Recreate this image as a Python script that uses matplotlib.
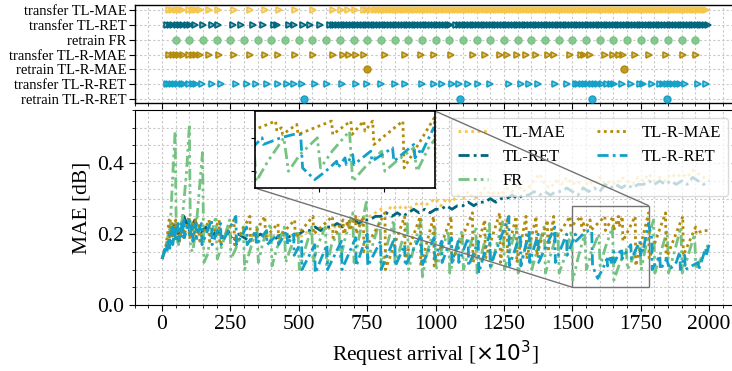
import numpy as np
import matplotlib
matplotlib.use("Agg")
import matplotlib.pyplot as plt
from matplotlib.ticker import MultipleLocator, FormatStrFormatter
from matplotlib.colors import to_rgba
from mpl_toolkits.axes_grid1.inset_locator import mark_inset

plt.rcParams['font.family'] = ['Liberation Serif', 'DejaVu Serif']
plt.rcParams['mathtext.fontset'] = 'dejavusans'

# ---------------- data ----------------
series_names = ["TL-MAE", "TL-RET", "FR", "TL-R-MAE", "TL-R-RET"]
colors = {"TL-MAE": "#f6c64a", "TL-RET": "#00667e", "FR": "#76c282",
          "TL-R-MAE": "#b38b0a", "TL-R-RET": "#12a0c8"}

grid_x = [0, 20, 40, 60, 80, 100, 120, 140, 160, 180, 200, 220, 240, 260, 280, 300, 320, 340, 360, 380,
          400, 420, 440, 460, 480, 500, 520, 540, 560, 580, 600, 620, 640, 660, 680, 700, 720, 740, 760, 780,
          800, 820, 840, 860, 880, 900, 920, 940, 960, 980, 1000, 1020, 1040, 1060, 1080, 1100, 1120, 1140, 1160, 1180,
          1200, 1220, 1240, 1260, 1280, 1300, 1320, 1340, 1360, 1380, 1400, 1420, 1440, 1460, 1480, 1500, 1520, 1540, 1560, 1580,
          1600, 1620, 1640, 1660, 1680, 1700, 1720, 1740, 1760, 1780, 1800, 1820, 1840, 1860, 1880, 1900, 1920, 1940, 1960, 1980, 2000]

tl_mae = [0.13, 0.17, 0.22, 0.19, 0.24, 0.20, 0.23, 0.19, 0.22, 0.20, 0.22, 0.19, 0.21, 0.20, 0.19, 0.20, 0.19, 0.20, 0.19, 0.20,
          0.19, 0.20, 0.19, 0.19, 0.20, 0.19, 0.20, 0.21, 0.21, 0.22, 0.21, 0.22, 0.22, 0.23, 0.23, 0.24, 0.24, 0.25, 0.25, 0.26,
          0.27, 0.26, 0.28, 0.27, 0.28, 0.27, 0.28, 0.29, 0.28, 0.29, 0.30, 0.28, 0.30, 0.29, 0.31, 0.30, 0.32, 0.30, 0.31, 0.33,
          0.31, 0.32, 0.31, 0.33, 0.32, 0.34, 0.32, 0.33, 0.35, 0.37, 0.34, 0.33, 0.35, 0.34, 0.36, 0.34, 0.35, 0.33, 0.35, 0.34,
          0.36, 0.34, 0.35, 0.34, 0.36, 0.35, 0.34, 0.36, 0.35, 0.37, 0.35, 0.36, 0.35, 0.37, 0.36, 0.37, 0.36, 0.38, 0.37, 0.36, 0.36]

tl_ret = [0.13, 0.18, 0.23, 0.20, 0.25, 0.21, 0.24, 0.20, 0.22, 0.19, 0.21, 0.19, 0.21, 0.18, 0.20, 0.19, 0.18, 0.19, 0.20, 0.19,
          0.18, 0.19, 0.20, 0.19, 0.20, 0.20, 0.21, 0.21, 0.22, 0.21, 0.22, 0.22, 0.23, 0.22, 0.23, 0.24, 0.23, 0.24, 0.24, 0.25,
          0.25, 0.26, 0.25, 0.26, 0.25, 0.26, 0.27, 0.26, 0.27, 0.26, 0.27, 0.27, 0.28, 0.27, 0.28, 0.28, 0.29, 0.28, 0.29, 0.29,
          0.30, 0.29, 0.30, 0.30, 0.31, 0.30, 0.31, 0.31, 0.32, 0.31, 0.32, 0.31, 0.32, 0.32, 0.33, 0.32, 0.31, 0.33, 0.32, 0.33,
          0.32, 0.34, 0.33, 0.34, 0.33, 0.34, 0.33, 0.34, 0.34, 0.35, 0.34, 0.35, 0.34, 0.35, 0.34, 0.35, 0.34, 0.36, 0.35, 0.34, 0.35]

fr_x = [0, 10, 20, 30, 40, 48, 52, 60, 75, 90, 100, 104, 112, 125, 140, 148, 153, 165, 180, 197, 202, 220, 247, 252, 270, 297,
        302, 320, 347, 352, 370, 397, 402, 420, 447, 452, 470, 497, 502, 520, 547, 552, 570, 597, 602, 620, 647, 652, 670, 697,
        702, 720, 747, 752, 770, 797, 802, 820, 847, 852, 870, 897, 902, 920, 947, 952, 970, 997, 1002, 1020, 1047, 1052, 1070,
        1097, 1102, 1120, 1147, 1152, 1170, 1197, 1202, 1220, 1247, 1252, 1270, 1297, 1302, 1320, 1347, 1352, 1370, 1397, 1402,
        1420, 1447, 1452, 1470, 1497, 1502, 1520, 1545, 1552, 1570, 1597, 1602, 1620, 1647, 1652, 1670, 1697, 1702, 1720, 1747,
        1752, 1770, 1797, 1802, 1820, 1847, 1852, 1870, 1897, 1902, 1920, 1947, 1952, 1970, 1997]
fr_y = [0.13, 0.15, 0.19, 0.22, 0.38, 0.49, 0.20, 0.17, 0.25, 0.38, 0.51, 0.16, 0.15, 0.22, 0.36, 0.43, 0.12, 0.14, 0.20, 0.25,
        0.13, 0.17, 0.24, 0.13, 0.16, 0.22, 0.10, 0.15, 0.22, 0.12, 0.18, 0.23, 0.11, 0.16, 0.22, 0.12, 0.16, 0.21, 0.10, 0.15,
        0.22, 0.12, 0.17, 0.22, 0.11, 0.17, 0.21, 0.13, 0.19, 0.26, 0.12, 0.19, 0.29, 0.13, 0.17, 0.24, 0.11, 0.16, 0.24, 0.11,
        0.16, 0.23, 0.10, 0.16, 0.24, 0.08, 0.15, 0.22, 0.10, 0.15, 0.21, 0.09, 0.14, 0.21, 0.10, 0.15, 0.22, 0.09, 0.15, 0.23,
        0.10, 0.16, 0.24, 0.10, 0.15, 0.22, 0.09, 0.14, 0.21, 0.10, 0.15, 0.22, 0.09, 0.14, 0.21, 0.09, 0.13, 0.21, 0.07, 0.13,
        0.20, 0.10, 0.15, 0.20, 0.11, 0.16, 0.22, 0.07, 0.11, 0.16, 0.10, 0.13, 0.17, 0.10, 0.17, 0.24, 0.09, 0.14, 0.21, 0.09,
        0.14, 0.22, 0.09, 0.13, 0.20, 0.10, 0.13, 0.17]

trm_x = [0, 15, 26, 28, 38, 40, 50, 52, 62, 64, 77, 79, 99, 101, 111, 113, 123, 125, 136, 138, 172, 174, 209, 211, 263, 265,
         321, 323, 376, 378, 424, 426, 485, 487, 552, 554, 623, 625, 662, 664, 684, 686, 708, 710, 736, 738, 815, 817, 887, 889,
         944, 946, 993, 995, 1057, 1059, 1135, 1137, 1180, 1182, 1235, 1237, 1261, 1263, 1295, 1297, 1331, 1333, 1368, 1370,
         1409, 1411, 1432, 1434, 1492, 1494, 1532, 1534, 1541, 1543, 1565, 1567, 1619, 1621, 1649, 1651, 1669, 1671, 1683, 1685,
         1730, 1732, 1779, 1781, 1841, 1843, 1904, 1906, 1951, 1953, 1975, 2000]
trm_y = [0.13, 0.17, 0.24, 0.19, 0.23, 0.18, 0.24, 0.19, 0.22, 0.18, 0.24, 0.19, 0.25, 0.19, 0.23, 0.18, 0.24, 0.18, 0.23, 0.18,
         0.24, 0.18, 0.24, 0.17, 0.24, 0.17, 0.25, 0.18, 0.25, 0.19, 0.23, 0.19, 0.24, 0.19, 0.25, 0.20, 0.25, 0.19, 0.24, 0.20,
         0.24, 0.21, 0.25, 0.20, 0.25, 0.15, 0.26, 0.10, 0.25, 0.13, 0.25, 0.11, 0.25, 0.11, 0.25, 0.12, 0.26, 0.12, 0.24, 0.13,
         0.26, 0.12, 0.24, 0.15, 0.25, 0.12, 0.25, 0.13, 0.25, 0.14, 0.24, 0.15, 0.25, 0.18, 0.25, 0.22, 0.25, 0.22, 0.23, 0.21,
         0.24, 0.21, 0.25, 0.21, 0.25, 0.21, 0.25, 0.22, 0.25, 0.18, 0.25, 0.11, 0.26, 0.13, 0.26, 0.13, 0.25, 0.14, 0.22, 0.20,
         0.21, 0.21]

trr_x = [0, 16, 18, 26, 28, 37, 39, 47, 49, 59, 61, 71, 73, 80, 82, 99, 101, 111, 113, 123, 125, 144, 146, 181, 183, 214, 216,
         270, 272, 309, 311, 343, 345, 382, 384, 424, 426, 457, 459, 481, 483, 510, 512, 558, 560, 603, 605, 656, 658, 708, 710,
         750, 752, 799, 801, 851, 853, 887, 889, 948, 950, 995, 997, 1022, 1024, 1058, 1060, 1083, 1085, 1119, 1121, 1156, 1158,
         1198, 1200, 1268, 1270, 1310, 1312, 1342, 1344, 1375, 1377, 1436, 1438, 1479, 1481, 1511, 1513, 1540, 1560, 1571, 1574,
         1593, 1610, 1627, 1629, 1640, 1642, 1652, 1654, 1680, 1682, 1714, 1716, 1747, 1749, 1756, 1758, 1778, 1790, 1792, 1820,
         1822, 1845, 1856, 1880, 1893, 1895, 1911, 1913, 1960, 1962, 1988, 1990, 2000]
trr_y = [0.13, 0.17, 0.15, 0.20, 0.16, 0.22, 0.17, 0.22, 0.18, 0.23, 0.18, 0.23, 0.19, 0.24, 0.19, 0.24, 0.19, 0.23, 0.18, 0.23,
         0.19, 0.23, 0.17, 0.24, 0.17, 0.23, 0.17, 0.25, 0.17, 0.22, 0.17, 0.21, 0.17, 0.21, 0.17, 0.20, 0.17, 0.21, 0.17, 0.20,
         0.14, 0.18, 0.10, 0.17, 0.09, 0.17, 0.10, 0.18, 0.10, 0.19, 0.11, 0.20, 0.11, 0.18, 0.10, 0.19, 0.11, 0.17, 0.11, 0.20,
         0.11, 0.19, 0.13, 0.18, 0.12, 0.19, 0.12, 0.18, 0.12, 0.19, 0.11, 0.18, 0.09, 0.20, 0.11, 0.25, 0.11, 0.20, 0.11, 0.21,
         0.12, 0.20, 0.12, 0.22, 0.12, 0.20, 0.14, 0.20, 0.18, 0.20, 0.21, 0.21, 0.11, 0.075, 0.10, 0.13, 0.11, 0.14, 0.12, 0.15,
         0.12, 0.16, 0.13, 0.17, 0.13, 0.18, 0.14, 0.16, 0.15, 0.23, 0.19, 0.10, 0.14, 0.10, 0.13, 0.10, 0.12, 0.15, 0.10, 0.14,
         0.10, 0.12, 0.10, 0.16, 0.14, 0.17]

# event rows (top panel)
event_labels = ["transfer TL-MAE", "transfer TL-RET", "retrain FR", "transfer TL-R-MAE",
                "retrain TL-R-MAE", "transfer TL-R-RET", "retrain TL-R-RET"]
ev_transfer_tl_mae = [27, 38, 50, 62, 74, 100, 112, 124, 137, 173, 206, 262, 320, 377, 428, 485, 552, 624, 655, 680, 705,
                      737, 750, 765, 780, 790, 800, 810, 820, 830, 840, 850, 860, 870, 880, 890, 900, 910, 920, 930, 940,
                      950, 960, 970, 980, 990, 1000, 1010, 1020, 1030, 1040, 1050, 1060, 1070, 1080, 1090, 1100, 1110,
                      1120, 1130, 1140, 1150, 1160, 1170, 1180, 1190, 1200, 1210, 1220, 1230, 1240, 1250, 1260, 1270,
                      1280, 1290, 1300, 1310, 1320, 1330, 1340, 1350, 1360, 1370, 1380, 1390, 1400, 1410, 1420, 1430,
                      1440, 1450, 1460, 1470, 1480, 1490, 1500, 1510, 1520, 1530, 1540, 1550, 1560, 1570, 1580, 1590,
                      1600, 1610, 1620, 1630, 1640, 1650, 1660, 1670, 1680, 1690, 1700, 1710, 1720, 1730, 1740, 1750,
                      1760, 1770, 1780, 1790, 1800, 1810, 1820, 1830, 1840, 1850, 1860, 1870, 1880, 1890, 1900, 1910,
                      1920, 1930, 1940, 1950, 1960, 1970, 1980, 1990]
ev_transfer_tl_ret = [17, 29, 41, 54, 66, 78, 90, 102, 121, 151, 182, 206, 261, 288, 332, 370, 410, 422, 465, 484, 517, 541,
                      578, 614, 624, 634, 644, 654, 664, 674, 684, 694, 704, 714, 724, 734, 744, 754, 764, 774, 784, 794,
                      804, 814, 824, 834, 844, 854, 864, 874, 884, 894, 904, 914, 924, 934, 944, 954, 964, 974, 984, 994,
                      1004, 1014, 1024, 1034, 1044, 1054, 1076, 1086, 1096, 1106, 1116, 1126, 1136, 1146, 1156, 1166,
                      1176, 1186, 1196, 1206, 1216, 1226, 1236, 1246, 1256, 1266, 1276, 1286, 1296, 1306, 1316, 1326,
                      1336, 1346, 1356, 1366, 1376, 1386, 1396, 1406, 1416, 1426, 1436, 1446, 1456, 1466, 1476, 1486,
                      1496, 1506, 1516, 1526, 1536, 1546, 1556, 1566, 1576, 1586, 1596, 1606, 1616, 1626, 1636, 1646,
                      1656, 1666, 1676, 1686, 1696, 1706, 1716, 1726, 1736, 1746, 1756, 1766, 1776, 1786, 1796, 1806,
                      1816, 1826, 1836, 1846, 1856, 1866, 1876, 1886, 1896, 1906, 1916, 1926, 1936, 1946, 1956, 1966,
                      1976, 1986, 1995]
ev_retrain_fr = [50, 100, 150, 200, 250, 300, 350, 400, 450, 500, 550, 600, 650, 700, 750, 800, 850, 900, 950, 1000, 1050,
                 1100, 1150, 1200, 1250, 1300, 1350, 1400, 1450, 1500, 1550, 1600, 1650, 1700, 1750, 1800, 1850, 1900, 1950]
ev_transfer_tl_r_mae = [27, 39, 51, 63, 78, 100, 112, 124, 137, 173, 210, 264, 322, 377, 425, 486, 553, 624, 663, 685, 709,
                        737, 816, 888, 945, 994, 1058, 1136, 1181, 1236, 1262, 1296, 1332, 1369, 1410, 1433, 1493, 1533,
                        1542, 1566, 1620, 1650, 1670, 1684, 1731, 1780, 1842, 1905, 1952]
ev_retrain_tl_r_mae = [750, 1690]
ev_transfer_tl_r_ret = [17, 27, 38, 48, 60, 72, 81, 100, 112, 124, 145, 182, 215, 271, 310, 344, 383, 425, 458, 482, 511,
                        559, 604, 657, 709, 751, 800, 852, 888, 949, 996, 1023, 1059, 1084, 1120, 1157, 1199, 1269, 1311,
                        1343, 1376, 1437, 1480, 1512, 1522, 1535, 1547, 1559, 1571, 1583, 1595, 1608, 1628, 1641, 1653,
                        1681, 1715, 1748, 1757, 1791, 1821, 1833, 1845, 1857, 1869, 1882, 1894, 1912, 1961, 1989]
ev_retrain_tl_r_ret = [519, 1090, 1572, 1847]

# ---------------- figure ----------------
W, H = 732, 371
fig = plt.figure(figsize=(W / 100, H / 100), dpi=100)

ax_left = 134.7 / W
ax_w = 601.7 / W
ax_top = fig.add_axes([ax_left, 1 - 103 / H, ax_w, 98 / H])
ax = fig.add_axes([ax_left, 1 - 305 / H, ax_w, 195 / H])

grid_kw = dict(color="#c8c8c8", linestyle=(0, (2, 2)), linewidth=0.8)

# ---- top event panel ----
rows = [
    (ev_transfer_tl_mae, colors["TL-MAE"], ">"),
    (ev_transfer_tl_ret, colors["TL-RET"], ">"),
    (ev_retrain_fr, colors["FR"], "o"),
    (ev_transfer_tl_r_mae, colors["TL-R-MAE"], ">"),
    (ev_retrain_tl_r_mae, colors["TL-R-MAE"], "o"),
    (ev_transfer_tl_r_ret, colors["TL-R-RET"], ">"),
    (ev_retrain_tl_r_ret, colors["TL-R-RET"], "o"),
]
for i, (ev, c, m) in enumerate(rows):
    if m == ">":
        ax_top.plot(ev, [i] * len(ev), linestyle="none", marker=">", markersize=5,
                    markeredgecolor=c, markerfacecolor=to_rgba(c, 0.45), markeredgewidth=1.2, zorder=3)
    else:
        ax_top.plot(ev, [i] * len(ev), linestyle="none", marker="o", markersize=5,
                    markeredgecolor=c, markerfacecolor=to_rgba(c, 0.85), markeredgewidth=1.0, zorder=3)

ax_top.set_ylim(6.27, -0.34)
ax_top.set_yticks(range(len(event_labels)))
ax_top.set_yticklabels(event_labels, fontsize=10.5)
ax_top.set_xlim(-100, 2100)
ax_top.xaxis.set_major_locator(MultipleLocator(250))
ax_top.xaxis.set_minor_locator(MultipleLocator(50))
ax_top.tick_params(axis="x", labelbottom=False, length=4)
ax_top.tick_params(axis="x", which="minor", length=2)
ax_top.tick_params(axis="y", length=4, pad=2)
ax_top.grid(True, which="both", **grid_kw)
ax_top.set_axisbelow(True)
for s in ax_top.spines.values():
    s.set_linewidth(1.0)

# ---- main panel ----
styles = {
    "TL-MAE": (0, (1, 1.3)),
    "TL-RET": (0, (4, 1.5, 1, 1.5)),
    "FR": (0, (4, 1.5, 1, 1.5, 1, 1.5)),
    "TL-R-MAE": (0, (1, 1.3)),
    "TL-R-RET": (0, (4, 1.5, 1, 1.5)),
}
data = {
    "TL-MAE": (grid_x, tl_mae),
    "TL-RET": (grid_x, tl_ret),
    "FR": (fr_x, fr_y),
    "TL-R-MAE": (trm_x, trm_y),
    "TL-R-RET": (trr_x, trr_y),
}


def draw_lines(a, lw):
    for name in series_names:
        xs, ys = data[name]
        a.plot(xs, ys, color=colors[name], linestyle=styles[name], linewidth=lw, label=name)


draw_lines(ax, 2.0)
ax.set_xlim(-100, 2100)
ax.set_ylim(0, 0.55)
ax.xaxis.set_major_locator(MultipleLocator(250))
ax.xaxis.set_minor_locator(MultipleLocator(50))
ax.yaxis.set_major_locator(MultipleLocator(0.2))
ax.yaxis.set_minor_locator(MultipleLocator(0.05))
ax.yaxis.set_major_formatter(FormatStrFormatter("%.1f"))
ax.tick_params(axis="both", which="major", labelsize=15.5, length=4)
ax.tick_params(axis="both", which="minor", length=2)
ax.grid(True, which="both", **grid_kw)
ax.set_axisbelow(True)
ax.set_xlabel(r"Request arrival [$\times10^3$]", fontsize=15.5, labelpad=3)
ax.set_ylabel("MAE [dB]", fontsize=15.5)

leg = ax.legend(ncol=2, loc="upper right", bbox_to_anchor=(728 / W, 1 - 118 / H),
                bbox_transform=fig.transFigure, borderaxespad=0, fontsize=12,
                handlelength=1.8, handletextpad=0.9, columnspacing=1.9, labelspacing=0.5,
                framealpha=0.75, edgecolor="#d0d0d0", fancybox=True)
leg.set_zorder(5)

# ---- inset ----
axins = fig.add_axes([255 / W, 1 - 188 / H, 180 / W, 77 / H])
draw_lines(axins, 2.0)
axins.set_xlim(1500, 1780)
axins.set_ylim(0.05, 0.28)
axins.set_xticks([1600, 1700])
axins.set_yticks([0.1, 0.2])
axins.tick_params(labelbottom=False, labelleft=False, length=3)
axins.set_facecolor("white")
for s in axins.spines.values():
    s.set_linewidth(1.2)
mark_inset(ax, axins, loc1=1, loc2=3, fc="none", ec="0.45", lw=1.0)

fig.savefig("out.png", dpi=100)
